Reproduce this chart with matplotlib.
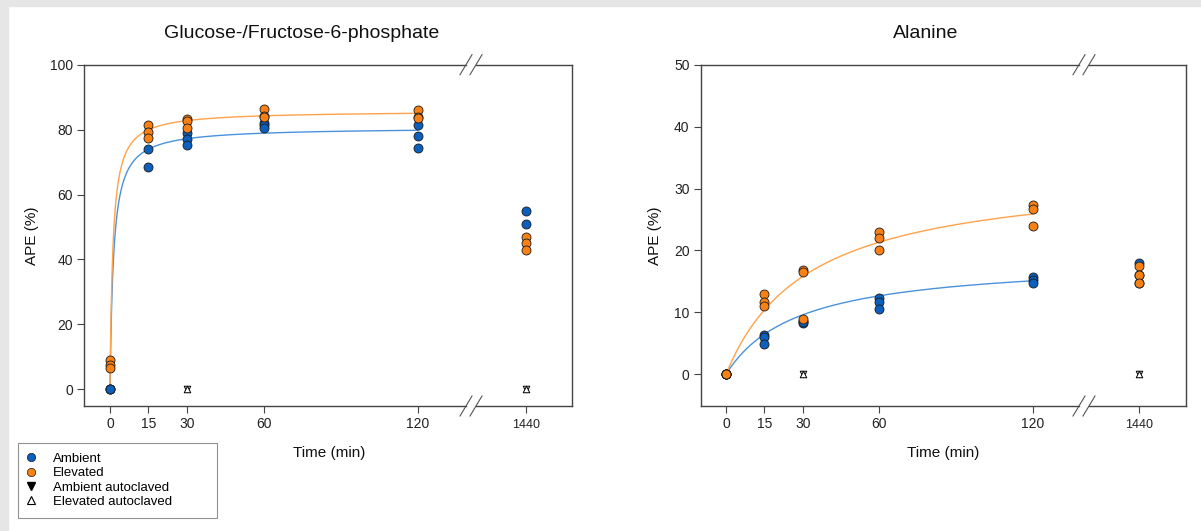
import numpy as np
import matplotlib
matplotlib.use("Agg")
import matplotlib.pyplot as plt
from matplotlib.lines import Line2D
from matplotlib.patches import Rectangle

plt.rcParams['font.family'] = ['Liberation Sans', 'DejaVu Sans']

# data
glc_amb_t = [0, 0, 0, 15, 15, 30, 30, 30, 60, 60, 60, 120, 120, 120, 1440, 1440]
glc_amb_y = [0, 0, 0, 73.9, 68.4, 78.9, 77.0, 75.3, 82.1, 81.3, 80.4, 81.5, 78.0, 74.3, 55.0, 50.8]
glc_elev_t = [0, 0, 0, 15, 15, 15, 30, 30, 30, 60, 60, 60, 120, 120, 120, 1440, 1440, 1440]
glc_elev_y = [9.0, 7.5, 6.5, 81.3, 79.3, 77.4, 83.2, 82.7, 80.6, 86.3, 84.2, 84.0, 86.0, 84.0, 83.6, 46.9, 45.0, 42.9]

ala_amb_t = [0, 0, 0, 15, 15, 15, 30, 30, 30, 60, 60, 60, 120, 120, 120, 1440, 1440, 1440]
ala_amb_y = [0, 0, 0, 6.3, 6.1, 4.9, 8.6, 8.3, 8.5, 12.3, 11.7, 10.6, 15.7, 15.3, 14.8, 17.9, 16.0, 14.8]
ala_elev_t = [0, 0, 0, 15, 15, 15, 30, 30, 30, 60, 60, 60, 120, 120, 120, 1440, 1440, 1440]
ala_elev_y = [0, 0, 0, 13.0, 11.7, 11.0, 16.9, 16.5, 8.9, 23.0, 22.0, 20.0, 27.3, 26.7, 24.0, 17.5, 16.1, 14.8]

auto_t = [30, 1440]
auto_y = [0, 0]

# hyperbolic fits y = vmax*t/(k+t)
glc_fit = {"amb": (80.7, 1.36), "elev": (85.8, 1.10)}
ala_fit = {"amb": (18.66, 28.3), "elev": (32.9, 32.5)}

xticks_main = [0, 15, 30, 60, 120]
xtick_side = [1440]

blue = '#0b5fbd'
orange = '#f98114'
blue_line = '#4a92dc'
orange_line = '#ffa24a'
spine_c = '#444444'

W, H = 1201, 531
fig = plt.figure(figsize=(W / 100, H / 100), dpi=100)

# grey frame around the page
fig.add_artist(Rectangle((0, 1 - 6 / H), 1, 6 / H, transform=fig.transFigure,
                         color='#e6e6e6', zorder=0))
fig.add_artist(Rectangle((0, 0), 8 / W, 1, transform=fig.transFigure,
                         color='#e6e6e6', zorder=0))


def px(x0, y0, x1, y1):
    return [x0 / W, 1 - y1 / H, (x1 - x0) / W, (y1 - y0) / H]


def slash(cx, cy):
    fig.add_artist(Line2D([(cx - 6) / W, (cx + 6) / W], [1 - (cy + 10) / H, 1 - (cy - 10) / H],
                          transform=fig.transFigure, color='#555555', lw=0.8))


def panel(main_box, side_box, main_xlim, side_xlim, ylim, yticks, data, fit, title, title_x,
          xlabel_x, ylabel_x):
    ax = fig.add_axes(px(*main_box))
    ax2 = fig.add_axes(px(*side_box))
    for a in (ax, ax2):
        a.set_ylim(*ylim)
        for s in a.spines.values():
            s.set_color(spine_c)
            s.set_linewidth(1.0)
        a.tick_params(direction='out', length=5, width=0.8, color=spine_c,
                      labelcolor='#222222', labelsize=10, pad=3)
    ax.spines['right'].set_visible(False)
    ax2.spines['left'].set_visible(False)
    ax2.tick_params(axis='y', left=False, labelleft=False)
    ax2.tick_params(axis='x', labelsize=9, pad=4)
    ax.set_xlim(*main_xlim)
    ax2.set_xlim(*side_xlim)
    ax.set_xticks(xticks_main)
    ax2.set_xticks(xtick_side)
    ax.set_yticks(yticks)

    tt = np.linspace(0, 120, 600)
    for a in (ax, ax2):
        (at, ay), (et, ey) = data
        vm, k = fit["amb"]
        a.plot(tt, vm * tt / (k + tt), color=blue_line, lw=1.0, zorder=2)
        vm, k = fit["elev"]
        a.plot(tt, vm * tt / (k + tt), color=orange_line, lw=1.0, zorder=2)
        a.scatter(at, ay, s=42, color=blue, edgecolors='#1a1a1a', linewidths=0.6, zorder=3)
        a.scatter(et, ey, s=42, color=orange, edgecolors='#1a1a1a', linewidths=0.6, zorder=4)
        a.scatter(auto_t, auto_y, s=22, marker='v', color='white', edgecolors='black',
                  linewidths=0.7, zorder=5)
        a.scatter(auto_t, auto_y, s=22, marker='^', color='white', edgecolors='black',
                  linewidths=0.7, zorder=6)

    x0, y0, x1, y1 = main_box
    for cy in (y0, y1):
        slash(x1, cy)
        slash(side_box[0], cy)

    fig.text(title_x / W, 1 - 33 / H, title, ha='center', va='center', fontsize=14, color='#111111')
    fig.text(xlabel_x / W, 1 - 453 / H, 'Time (min)', ha='center', va='center', fontsize=11,
             color='#111111')
    fig.text(ylabel_x / W, 1 - ((y0 + y1) / 2) / H, 'APE (%)', ha='center', va='center',
             rotation=90, fontsize=11, color='#111111')


panel((84.3, 64.7, 466, 406), (476, 64.7, 572.3, 406), (-10.02, 138.8), (1420.5, 1458.1),
      (-5.14, 100), [0, 20, 40, 60, 80, 100],
      ((glc_amb_t, glc_amb_y), (glc_elev_t, glc_elev_y)), glc_fit,
      'Glucose-/Fructose-6-phosphate', 302, 329, 32)
panel((700.7, 64.7, 1079, 406), (1089, 64.7, 1186, 406), (-9.9, 138.1), (1420.3, 1458.3),
      (-5.12, 50), [0, 10, 20, 30, 40, 50],
      ((ala_amb_t, ala_amb_y), (ala_elev_t, ala_elev_y)), ala_fit,
      'Alanine', 926, 943, 655)

handles = [
    Line2D([], [], ls='none', marker='o', ms=6, color=blue, mec='#1a1a1a', mew=0.5),
    Line2D([], [], ls='none', marker='o', ms=6, color=orange, mec='#1a1a1a', mew=0.5),
    Line2D([], [], ls='none', marker='v', ms=5.5, color='black', mec='black'),
    Line2D([], [], ls='none', marker='^', ms=5.5, color='white', mec='black', mew=0.8),
]
labels = ['Ambient', 'Elevated', 'Ambient autoclaved', 'Elevated autoclaved']
leg = fig.legend(handles, labels, loc='lower left',
                 bbox_to_anchor=(18 / W, 1 - 518 / H, 199 / W, 75 / H), mode='expand',
                 fontsize=9.5, frameon=True, fancybox=False, edgecolor='#777777',
                 labelspacing=0.17, handletextpad=1.5, handlelength=0.4, borderpad=0.75,
                 borderaxespad=0)
leg.get_frame().set_linewidth(0.8)

fig.savefig('out.png', dpi=100, facecolor='white')
